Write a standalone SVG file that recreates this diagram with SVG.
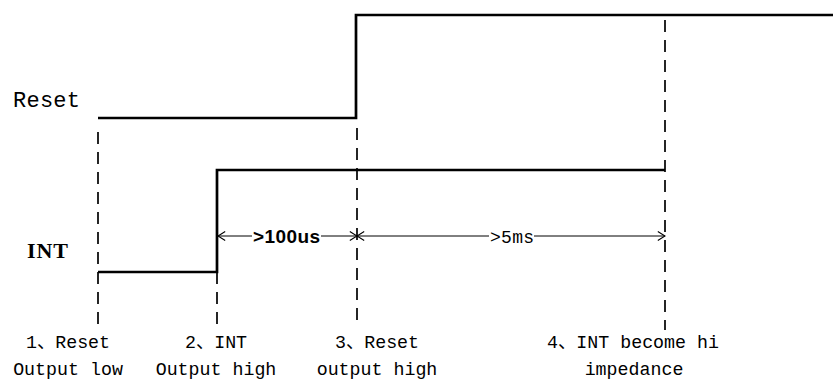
<svg xmlns="http://www.w3.org/2000/svg" width="833" height="379" viewBox="0 0 833 379">
<defs>
<style>
.sig{fill:none;stroke:#000;stroke-width:2.7;stroke-linejoin:miter}
.dash{fill:none;stroke:#000;stroke-width:1.7;stroke-dasharray:12 8}
.dim{fill:none;stroke:#000;stroke-width:1}
.lbl{font-family:"Liberation Mono","Noto Sans CJK SC",monospace;font-size:18.3px;fill:#000;text-anchor:middle}
.name{font-family:"Liberation Mono","Noto Sans CJK SC",monospace;font-size:22px;fill:#000}
.bold{font-family:"Liberation Serif",serif;font-weight:bold;font-size:22px;fill:#000}
</style>
<marker id="ah" viewBox="0 0 10 12" refX="9" refY="6" markerWidth="9" markerHeight="11" orient="auto-start-reverse" markerUnits="userSpaceOnUse">
<path d="M1,1 L9,6 L1,11" fill="none" stroke="#000" stroke-width="1.2"/>
</marker>
</defs>
<g id="reset">
<text class="name" x="13" y="107" textLength="67">Reset</text>
<path class="sig" d="M98,118 H356 V15 H833"/>
</g>
<g id="int">
<text class="bold" x="27" y="258" textLength="41">INT</text>
<path class="sig" d="M98,272 H217 V170 H665"/>
</g>
<g id="guides">
<line class="dash" x1="98" y1="132" x2="98" y2="329"/>
<line class="dash" x1="217" y1="272" x2="217" y2="325"/>
<line class="dash" x1="357" y1="128" x2="357" y2="325"/>
<line class="dash" x1="665" y1="20" x2="665" y2="330"/>
</g>
<g id="connectors">
<line class="dim" x1="218" y1="236" x2="252" y2="236" marker-start="url(#ah)"/>
<line class="dim" x1="321" y1="236" x2="357" y2="236" marker-end="url(#ah)"/>
<line class="dim" x1="357" y1="236" x2="489" y2="236" marker-start="url(#ah)"/>
<line class="dim" x1="534" y1="236" x2="665" y2="236" marker-end="url(#ah)"/>
<text x="253" y="243" font-family="Liberation Sans,sans-serif" font-weight="bold" font-size="19" textLength="67">&gt;100us</text>
<text x="490" y="243" font-family="Liberation Mono,monospace" font-size="18" textLength="44">&gt;5ms</text>
</g>
<g id="step1">
<text class="lbl" x="68" y="348">1、Reset</text>
<text class="lbl" x="68" y="375">Output low</text>
</g>
<g id="step2">
<text class="lbl" x="216" y="348">2、INT</text>
<text class="lbl" x="216" y="375">Output high</text>
</g>
<g id="step3">
<text class="lbl" x="377" y="348">3、Reset</text>
<text class="lbl" x="377" y="375">output high</text>
</g>
<g id="step4">
<text class="lbl" x="633" y="348">4、INT become hi</text>
<text class="lbl" x="634" y="375">impedance</text>
</g>
</svg>
